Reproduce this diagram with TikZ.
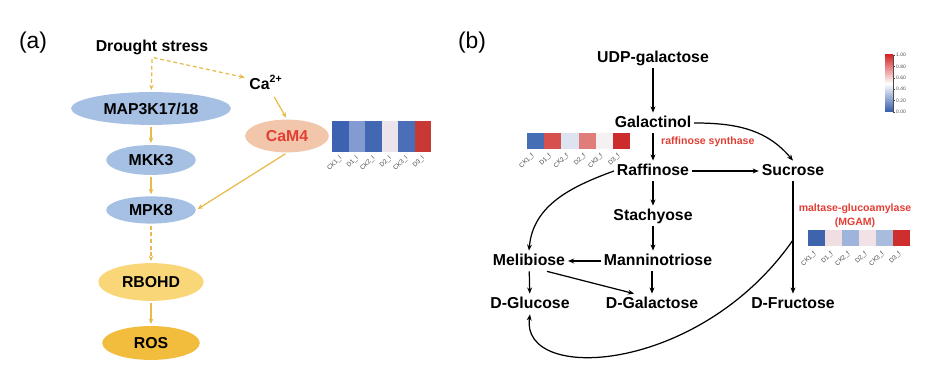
\documentclass[tikz,border=0pt]{standalone}
\usepackage{fontspec}
\setmainfont{Liberation Sans}
\usetikzlibrary{arrows.meta,shapes.geometric}

\definecolor{geneblue}{RGB}{166,192,228}
\definecolor{campeach}{RGB}{241,198,170}
\definecolor{rbohdyellow}{RGB}{249,214,120}
\definecolor{rosgold}{RGB}{242,188,60}
\definecolor{arrowgold}{RGB}{232,185,75}
\definecolor{enzred}{RGB}{226,62,52}
\definecolor{labgray}{RGB}{75,75,75}
% heatmap (a)
\definecolor{hA1}{RGB}{62,98,178}
\definecolor{hA2}{RGB}{130,156,210}
\definecolor{hA3}{RGB}{66,104,180}
\definecolor{hA4}{RGB}{236,228,234}
\definecolor{hA5}{RGB}{74,110,184}
\definecolor{hA6}{RGB}{200,56,52}
% heatmap raffinose synthase
\definecolor{hB1}{RGB}{70,110,180}
\definecolor{hB2}{RGB}{214,80,78}
\definecolor{hB3}{RGB}{221,227,240}
\definecolor{hB4}{RGB}{224,124,122}
\definecolor{hB5}{RGB}{245,241,242}
\definecolor{hB6}{RGB}{204,44,44}
% heatmap MGAM
\definecolor{hC1}{RGB}{62,100,172}
\definecolor{hC2}{RGB}{240,222,226}
\definecolor{hC3}{RGB}{158,180,218}
\definecolor{hC4}{RGB}{242,226,232}
\definecolor{hC5}{RGB}{168,188,222}
\definecolor{hC6}{RGB}{206,46,46}
\definecolor{barred}{RGB}{214,40,40}
\definecolor{barblue}{RGB}{50,90,170}

\begin{document}
\begin{tikzpicture}[x=0.02cm, y=0.02cm, >={Stealth[length=3.5pt,width=2.8pt]},
    gene/.style={ellipse, inner sep=0pt, font=\fontsize{9}{10}\selectfont\bfseries},
    met/.style={inner sep=1.5pt, text height=6.8pt, text depth=1.6pt, font=\fontsize{9}{10}\selectfont\bfseries},
    sig/.style={->, draw=arrowgold, line width=0.7pt, shorten <=1pt, shorten >=1pt, >={Stealth[length=3pt,width=2.6pt]}},
    sigdash/.style={sig, dash pattern=on 2.2pt off 1.6pt},
    path/.style={->, line width=0.7pt},
    enz/.style={text=enzred, inner sep=0.5pt, font=\fontsize{6}{7}\selectfont\bfseries},
    samp/.style={rotate=45, anchor=east, inner sep=0.3pt, text=labgray, font=\fontsize{3.6}{4}\selectfont},
    barlab/.style={anchor=west, inner sep=0.5pt, text=labgray, font=\fontsize{2.8}{3}\selectfont}]

    \useasboundingbox (0,0) rectangle (926,384);

    % (a) signalling
    \node[font=\fontsize{13}{15}\selectfont] (tagA) at (33,341) {(a)};
    \node[met] (drought) at (152,337) {Drought stress};
    \node[gene, fill=geneblue, minimum width=91pt, minimum height=18.7pt] (map) at (151,275.5) {MAP3K17/18};
    \node[gene, fill=geneblue, minimum width=51pt, minimum height=17pt] (mkk) at (151,224) {MKK3};
    \node[gene, fill=geneblue, minimum width=51pt, minimum height=15.5pt] (mpk) at (151,174) {MPK8};
    \node[gene, fill=rbohdyellow, minimum width=60pt, minimum height=21.5pt] (rbohd) at (151,102) {RBOHD};
    \node[gene, fill=rosgold, minimum width=55.5pt, minimum height=19.3pt] (ros) at (151,41) {ROS};
    \node[met] (ca) at (266,299) {Ca\textsuperscript{2+}};
    \node[gene, fill=campeach, text=enzred, minimum width=47.6pt, minimum height=18.7pt] (cam) at (287,248) {CaM4};

    \draw[sigdash] (drought.south) -- (map);
    \draw[sigdash] (drought.south) -- (ca.160);
    \draw[sig] (ca.-55) -- (cam.north);
    \draw[sig] (map) -- (mkk);
    \draw[sig] (mkk) -- (mpk);
    \draw[sig] (cam.south) -- (mpk.east);
    \draw[sigdash] (mpk) -- (rbohd);
    \draw[sig] (rbohd) -- (ros);

    \foreach \c/\s [count=\i] in {hA1/CK1, hA2/D1, hA3/CK2, hA4/D2, hA5/CK3, hA6/D3} {
        \fill[\c] ({332+(\i-1)*16.5},232) rectangle ({332+\i*16.5},263);
        \node[samp] (labA\i) at ({332+(\i-0.5)*16.5+1},227) {\s\_l};
    }

    % (b) raffinose family pathway
    \node[font=\fontsize{13}{15}\selectfont] (tagB) at (472,341) {(b)};
    \node[met] (udp) at (653,326) {UDP-galactose};
    \node[met] (gal) at (653,261) {Galactinol};
    \node[met] (raf) at (653,213) {Raffinose};
    \node[met] (suc) at (793,213) {Sucrose};
    \node[met] (sta) at (653,168) {Stachyose};
    \node[met] (man) at (658,123) {Manninotriose};
    \node[met] (mel) at (529,123) {Melibiose};
    \node[met] (glu) at (530,80) {D-Glucose};
    \node[met] (dgal) at (652,80) {D-Galactose};
    \node[met] (fru) at (793,80) {D-Fructose};
    \node[enz, anchor=west] (rs) at (660,242) {raffinose synthase};
    \node[enz] (mgam) at (855,175) {maltase-glucoamylase};
    \node[enz] (mgamab) at (855,161) {(MGAM)};
    \coordinate (sucbend) at (793,144);

    \draw[path] (udp) -- (gal);
    \draw[path] (gal) -- (raf);
    \draw[path] (gal.east) to[out=0, in=130] (suc.north);
    \draw[path] (raf) -- (suc);
    \draw[path] (raf) -- (sta);
    \draw[path] (sta.south) -- (sta.south |- man.north);
    \draw[path] (man) -- (mel);
    \draw[path] (raf.west) to[out=200, in=85] (mel.north);
    \draw[path] (mel) -- (glu);
    \draw[path] (mel.-30) -- (dgal.150);
    \draw[path] (man.south -| dgal.north) -- (dgal.north);
    \draw[path] (suc) -- (fru);
    \draw[path] (sucbend) .. controls (700,10) and (520,0) .. (glu.south);

    \foreach \c/\s [count=\i] in {hB1/CK1, hB2/D1, hB3/CK2, hB4/D2, hB5/CK3, hB6/D3} {
        \fill[\c] ({527+(\i-1)*17.2},235) rectangle ({527+\i*17.2},251);
        \node[samp] (labB\i) at ({527+(\i-0.5)*17.2-2},230) {\s\_f};
    }
    \foreach \c/\s [count=\i] in {hC1/CK1, hC2/D1, hC3/CK2, hC4/D2, hC5/CK3, hC6/D3} {
        \fill[\c] ({808+(\i-1)*17},138) rectangle ({808+\i*17},154);
        \node[samp] (labC\i) at ({808+(\i-0.5)*17-1},132) {\s\_f};
    }

    % colour scale
    \shade[top color=barred, bottom color=barblue, middle color=white] (885,272) rectangle (893,329);
    \draw[line width=0.3pt, labgray] (893,272) -- (893,329);
    \foreach \v/\i in {0.00/0, 0.20/1, 0.40/2, 0.60/3, 0.80/4, 1.00/5} {
        \draw[line width=0.3pt, labgray] (893,{272+\i*11.4}) -- (895,{272+\i*11.4});
        \node[barlab] (bar\i) at (895,{272+\i*11.4}) {\v};
    }
\end{tikzpicture}
\end{document}
